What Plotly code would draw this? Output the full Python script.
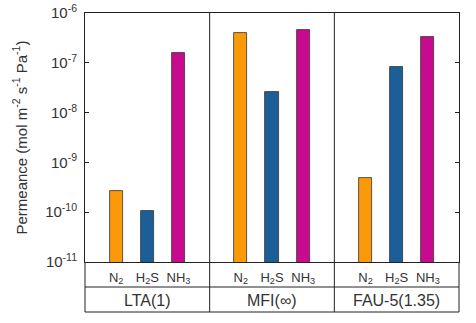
import plotly.graph_objects as go

groups = ["LTA(1)", "MFI(∞)", "FAU-5(1.35)"]
gases = ["N<sub>2</sub>", "H<sub>2</sub>S", "NH<sub>3</sub>"]
n2_vals = [2.7e-10, 3.95e-7, 4.8e-10]
h2s_vals = [1.05e-10, 2.6e-8, 8.2e-8]
nh3_vals = [1.6e-7, 4.6e-7, 3.3e-7]
ytick_vals = [1e-11, 1e-10, 1e-9, 1e-8, 1e-7, 1e-6]
ytick_text = ["10<sup>-11</sup>", "10<sup>-10</sup>", "10<sup>-9</sup>",
              "10<sup>-8</sup>", "10<sup>-7</sup>", "10<sup>-6</sup>"]

colors = ["#FA9A0A", "#1B5E98", "#C70A8E"]
series = [n2_vals, h2s_vals, nh3_vals]

FONT = "Liberation Sans, Arial, sans-serif"
TXT = "#333333"
LINE = "#222222"

fig = go.Figure()
for i, (vals, col) in enumerate(zip(series, colors)):
    xs = [4 * g + 1 + i for g in range(len(groups))]
    fig.add_trace(go.Bar(
        x=xs, y=vals, width=0.42,
        marker=dict(color=col, line=dict(color="#333333", width=0.8)),
        showlegend=False,
    ))

tickvals = [4 * g + 1 + i for g in range(len(groups)) for i in range(len(gases))]
ticktext = [gases[i] for g in range(len(groups)) for i in range(len(gases))]

fig.update_layout(
    width=476, height=323,
    margin=dict(l=85, r=17, t=13, b=61),
    paper_bgcolor="white", plot_bgcolor="white",
    font=dict(family=FONT, color=TXT, size=14),
    bargap=0,
)
fig.update_xaxes(
    range=[0, 12], tickvals=tickvals, ticktext=ticktext, automargin=False,
    ticks="", showline=True, linecolor=LINE, linewidth=1, mirror=True,
    showgrid=False, zeroline=False, tickfont=dict(size=13, color=TXT),
    ticklabelstandoff=3,
)
fig.update_yaxes(
    type="log", range=[-11, -6], tickvals=ytick_vals, ticktext=ytick_text,
    automargin=False,
    ticks="inside", ticklen=4, tickcolor=LINE, showline=True, linecolor=LINE,
    linewidth=1, mirror="ticks", showgrid=False, zeroline=False,
    tickfont=dict(size=15, color=TXT), ticklabelstandoff=4,
)

yb1 = (262 - 287) / 249
yb2 = (262 - 312) / 249
shapes = [
    dict(type="line", xref="paper", yref="paper", x0=0, x1=0, y0=yb2, y1=0),
    dict(type="line", xref="paper", yref="paper", x0=1, x1=1, y0=yb2, y1=0),
    dict(type="line", xref="paper", yref="paper", x0=0, x1=1, y0=yb1, y1=yb1),
    dict(type="line", xref="paper", yref="paper", x0=0, x1=1, y0=yb2, y1=yb2),
]
for xv in [4, 8]:
    shapes.append(dict(type="line", xref="x", yref="paper", x0=xv, x1=xv, y0=yb2, y1=1))
for s in shapes:
    s["line"] = dict(color=LINE, width=1)
fig.update_layout(shapes=shapes)

ann = []
for g, name in enumerate(groups):
    ann.append(dict(x=4 * g + 2, xref="x", y=(262 - 300) / 249, yref="paper",
                    text=name, showarrow=False, yanchor="middle",
                    font=dict(size=16, color=TXT, family=FONT)))
ann.append(dict(x=(20 - 85) / 374, xref="paper", y=0.5, yref="paper",
                text="Permeance (mol m<sup>-2</sup> s<sup>-1</sup> Pa<sup>-1</sup>)",
                textangle=-90, showarrow=False, xanchor="center", yanchor="middle",
                font=dict(size=15, color=TXT, family=FONT)))
fig.update_layout(annotations=ann)

fig.write_html("out.html", config={"displayModeBar": False},
               post_script="document.body.style.margin='0';")
